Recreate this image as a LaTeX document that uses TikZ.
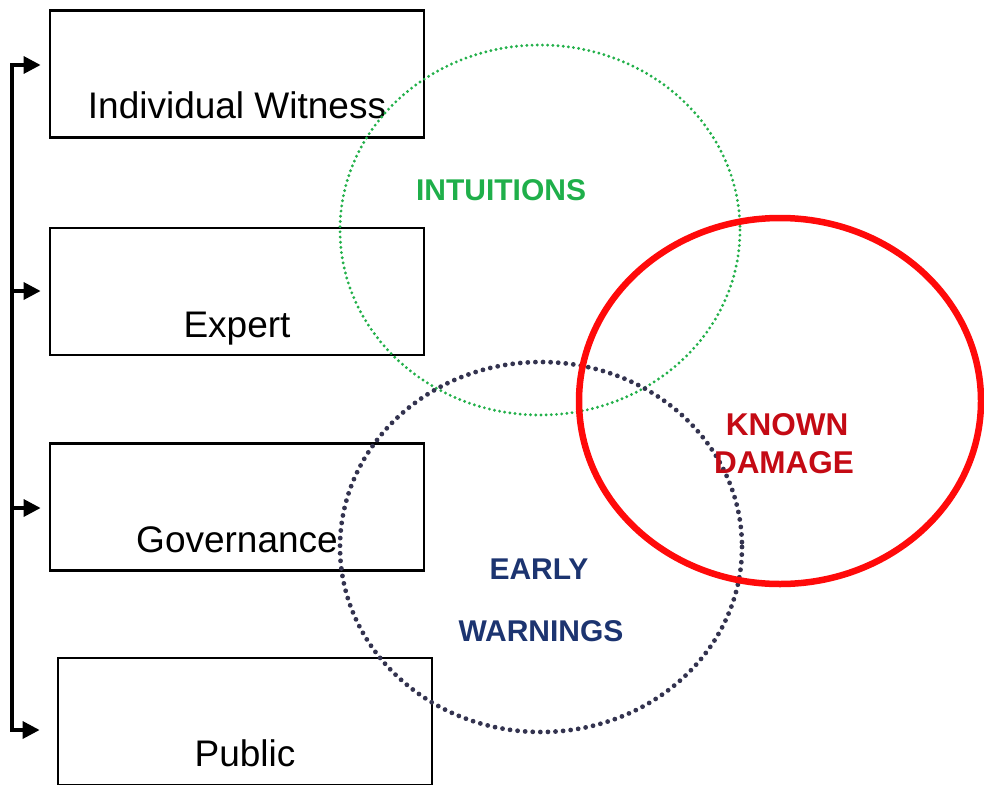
\documentclass[tikz,border=0pt]{standalone}
\usepackage{fontspec}
\setmainfont{Liberation Sans}
\usetikzlibrary{arrows.meta}
\definecolor{ringgreen}{HTML}{22B04A}
\definecolor{ringdark}{HTML}{33334F}
\definecolor{ringred}{HTML}{FF0A0A}
\definecolor{txtgreen}{HTML}{1FAF4A}
\definecolor{txtred}{HTML}{C40A14}
\definecolor{txtnavy}{HTML}{1C3470}
\begin{document}
\begin{tikzpicture}[x=1pt,y=-1pt,
  box/.style={draw=black,line width=2.8pt,minimum width=374pt,minimum height=127pt,inner sep=0pt},
  boxtext/.style={font=\fontsize{37}{40}\selectfont,inner sep=0pt,anchor=base},
  ringtext/.style={font=\fontsize{30}{33}\selectfont\bfseries,inner sep=0pt,anchor=base},
  link/.style={line width=3.4pt},
  arrowlink/.style={line width=3.4pt,-{Triangle[length=17pt,width=17pt]}}]
\useasboundingbox (0,0) rectangle (984,784);
% boxes
\node[box] (iw) at (237,74) {};
\node[box] (ex) at (237,291.5) {};
\node[box] (gv) at (237,507) {};
\node[box] (pb) at (245,721.5) {};
\node[boxtext] (iwt) at (237,118) {Individual Witness};
\node[boxtext] (ext) at (237,337) {Expert};
\node[boxtext] (gvt) at (237,552) {Governance};
\node[boxtext] (pbt) at (245,766) {Public};
% spine and arrows
\coordinate (s1) at (12,65);
\coordinate (s2) at (12,291);
\coordinate (s3) at (12,508);
\coordinate (s4) at (12,730);
\draw[link] (s1) -- (s4);
\draw[arrowlink,shorten >=8pt] ([xshift=-1.7pt]s1) -- (iw.west |- s1);
\draw[arrowlink,shorten >=8pt] (s2) -- (ex.west |- s2);
\draw[arrowlink,shorten >=8pt] (s3) -- (gv.west |- s3);
\draw[arrowlink,shorten >=17pt] ([xshift=-1.7pt]s4) -- (pb.west |- s4);
% rings
\draw[ringgreen,line width=3.2pt,line cap=round,dash pattern=on 0pt off 5.2pt] (540,230) ellipse [x radius=200,y radius=185];
\draw[ringdark,line width=4.8pt,line cap=round,dash pattern=on 0pt off 7.6pt] (541,547) ellipse [x radius=201,y radius=185];
\draw[ringred,line width=6.5pt] (780,401) ellipse [x radius=201,y radius=183];
% ring labels
\node[ringtext,text=txtgreen] (int) at (501,200) {INTUITIONS};
\node[ringtext,text=txtred,font=\fontsize{31.5}{33}\selectfont\bfseries] (kn) at (787,435) {KNOWN};
\node[ringtext,text=txtred,font=\fontsize{31.5}{33}\selectfont\bfseries] (dm) at (784,473) {DAMAGE};
\node[ringtext,text=txtnavy] (ea) at (539,579) {EARLY};
\node[ringtext,text=txtnavy] (wa) at (541,641) {WARNINGS};
\end{tikzpicture}
\end{document}
